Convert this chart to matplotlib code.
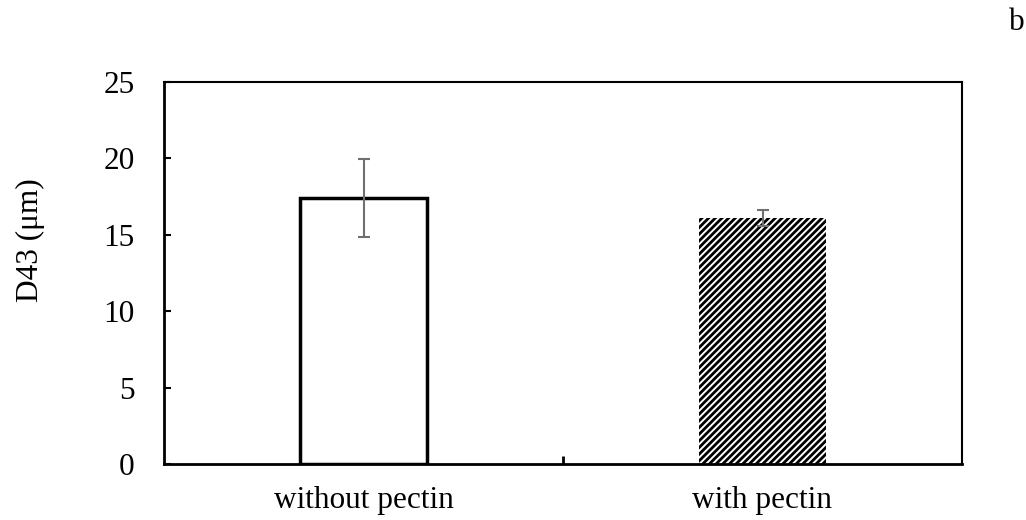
import matplotlib.pyplot as plt

categories = ['without pectin', 'with pectin']
values = [17.4, 16.1]
errors = [2.55, 0.55]

plt.rcParams['font.family'] = ['Liberation Serif', 'DejaVu Serif']
plt.rcParams['hatch.linewidth'] = 2.0
fs = 22.5

fig = plt.figure(figsize=(10.26, 5.2), dpi=100)
ax = fig.add_axes([164/1026, 1-464/520, 798/1026, 382/520])

x = [0, 1]
ax.bar(x[0], values[0], width=0.32, facecolor='white', edgecolor='black', linewidth=2.5)
ax.bar(x[1], values[1], width=0.32, facecolor='white', edgecolor='black', linewidth=0, hatch='/////')
ax.errorbar(x, values, yerr=errors, fmt='none', ecolor='#707070', elinewidth=1.5, capsize=4, capthick=1.5)

ax.set_xlim(-0.5, 1.5)
ax.set_ylim(0, 25)
ax.set_yticks([0, 5, 10, 15, 20, 25])
ax.set_xticks([0.5])
ax.set_xticklabels([''])
ax.set_xticks(x, minor=True)
ax.set_xticklabels(categories, minor=True)
ax.tick_params(axis='x', which='minor', length=0, pad=16, labelsize=fs)
ax.tick_params(axis='x', which='major', direction='in', length=6, width=2)
ax.tick_params(axis='y', direction='in', length=5, width=1.5, labelsize=fs, pad=21)
for s in ax.spines.values():
    s.set_linewidth(1.5)
ax.spines['left'].set_linewidth(2)
ax.spines['bottom'].set_linewidth(2)

ax.set_ylabel('D43 (μm)', fontsize=fs)
ax.yaxis.set_label_coords((45-164)/798, (464-240)/382)
fig.text(1017/1026, 1-23/520, 'b', fontsize=fs, ha='center', va='center')

fig.savefig('out.png', dpi=100)
